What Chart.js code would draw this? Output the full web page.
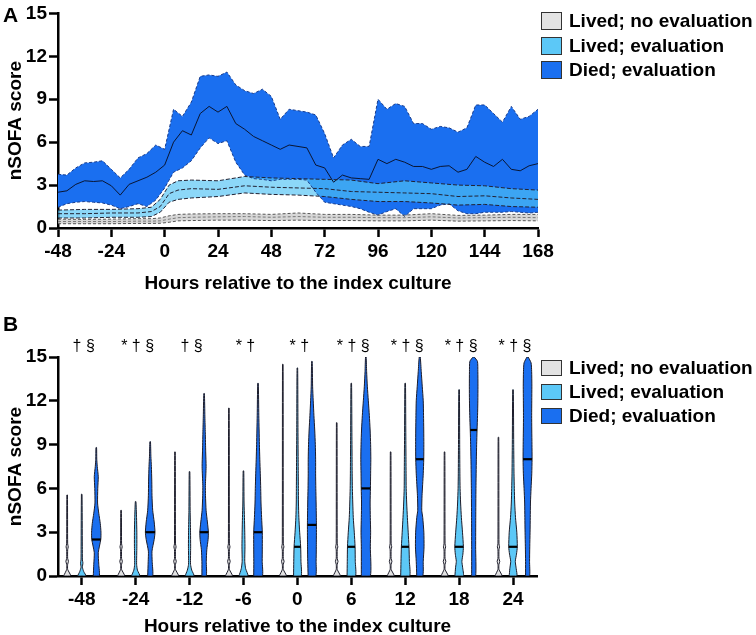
<!DOCTYPE html>
<html>
<head>
<meta charset="utf-8">
<script src="https://cdn.jsdelivr.net/npm/chart.js@4.4.0/dist/chart.umd.min.js"></script>
<style>
  body { margin: 0; background: #fff; font-family: "Liberation Sans", Arial, sans-serif; }
  #wrap { position: relative; width: 756px; height: 635px; overflow: hidden; }
  canvas { position: absolute; left: 0; }
  #chartA { top: 0; }
  #chartB { top: 300px; }
  .panel { position: absolute; left: 3px; font-weight: bold; font-size: 21px; line-height: 1; }
  .legend { position: absolute; left: 541px; font-weight: bold; font-size: 19px; color: #000; }
  .legend div { display: flex; align-items: center; white-space: nowrap; }
  .legend span { display: inline-block; width: 21px; box-sizing: border-box; border: 1.5px solid #333; margin-right: 7px; }
  #legA div { height: 24.5px; }
  #legA span { height: 18px; }
  #legB div { height: 24px; }
  #legB span { height: 16px; }
</style>
</head>
<body>
<div id="wrap">
  <canvas id="chartA" width="756" height="300"></canvas>
  <canvas id="chartB" width="756" height="335"></canvas>
  <div class="panel" style="top:4px">A</div>
  <div class="panel" style="top:313px">B</div>
  <div class="legend" id="legA" style="top:9px">
    <div><span style="background:#e3e3e3"></span>Lived; no evaluation</div>
    <div><span style="background:#5cc8f7"></span>Lived; evaluation</div>
    <div><span style="background:#1a6ff0"></span>Died; evaluation</div>
  </div>
  <div class="legend" id="legB" style="top:356px">
    <div><span style="background:#e3e3e3"></span>Lived; no evaluation</div>
    <div><span style="background:#5cc8f7"></span>Lived; evaluation</div>
    <div><span style="background:#1a6ff0"></span>Died; evaluation</div>
  </div>
</div>
<script>
// ---- Panel A: median and IQR of nSOFA over time ----
const diedHours = [-48, -44, -40, -36, -32, -28, -24, -20, -16, -12, -8, -4, 0, 4, 8, 12, 16, 20, 24, 28, 32, 36, 40, 44, 48,
  52, 56, 60, 64, 68, 72, 76, 80, 84, 88, 92, 96, 100, 104, 108, 112, 116, 120, 124, 128, 132, 136, 140, 144, 148, 152, 156, 160, 164, 168];
const diedUpper = [3.75, 3.7, 4.2, 4.55, 4.6, 4.7, 4.1, 3.5, 4.1, 4.9, 5.2, 5.8, 5.5, 8.3, 7.8, 8.8, 10.6, 10.7, 10.6, 10.9, 10.0, 9.6, 9.4, 9.7, 9.2,
  7.6, 8.3, 8.2, 8.1, 7.9, 6.6, 4.9, 5.8, 6.2, 5.7, 5.7, 9.0, 8.3, 8.7, 8.5, 7.3, 7.3, 6.9, 7.1, 7.0, 6.7, 7.0, 8.6, 8.6, 8.0, 7.4, 8.5, 7.6, 7.8, 8.3];
const diedMedian = [2.5, 2.6, 3.05, 3.3, 3.25, 3.3, 2.95, 2.3, 3.05, 3.3, 3.55, 3.9, 4.4, 6.0, 6.8, 6.5, 8.0, 8.5, 8.1, 8.5, 7.3, 6.9, 6.4, 6.1, 5.8,
  5.5, 5.8, 5.7, 5.6, 4.4, 4.2, 3.2, 3.7, 3.5, 3.45, 3.4, 4.8, 4.5, 4.8, 4.6, 4.3, 4.3, 4.1, 4.3, 4.35, 3.9, 4.1, 5.0, 4.6, 4.3, 4.8, 4.1, 4.0, 4.35, 4.5];
const diedLower = [1.45, 1.7, 1.8, 1.85, 1.8, 1.75, 1.6, 1.35, 1.5, 1.7, 1.5, 1.95, 2.8, 3.9, 4.2, 4.7, 5.6, 6.3, 5.9, 6.1, 4.6, 3.7, 3.45, 3.4, 3.3,
  3.4, 3.4, 3.4, 3.35, 2.5, 1.8, 1.7, 1.6, 1.5, 1.35, 1.1, 0.9, 1.15, 1.35, 0.8, 1.35, 1.35, 1.35, 1.6, 1.7, 1.2, 1.0, 1.0, 1.1, 1.1, 1.1, 1.15, 1.1, 1.05, 1.1];

const livedHours = [-48, -36, -24, -12, -6, -2, 2, 6, 12, 24, 36, 48, 60, 72, 84, 96, 108, 120, 132, 144, 156, 168];
const evalUpper = [1.25, 1.3, 1.3, 1.35, 1.45, 2.0, 3.0, 3.3, 3.35, 3.3, 3.6, 3.5, 3.45, 3.4, 3.35, 3.1, 3.3, 3.15, 3.0, 2.95, 2.75, 2.65];
const evalMedian = [1.0, 1.0, 1.05, 1.05, 1.15, 1.5, 2.4, 2.65, 2.75, 2.7, 2.95, 2.85, 2.8, 2.75, 2.55, 2.5, 2.45, 2.4, 2.2, 2.25, 2.1, 2.0];
const evalLower = [0.7, 0.7, 0.75, 0.75, 0.8, 1.1, 1.8, 2.0, 2.1, 2.2, 2.45, 2.35, 2.3, 2.2, 2.0, 1.85, 1.85, 1.75, 1.6, 1.65, 1.5, 1.45];
const noEvalUpper = [0.62, 0.6, 0.62, 0.65, 0.65, 0.7, 0.85, 0.95, 0.98, 1.0, 1.0, 0.95, 1.05, 0.95, 0.95, 0.9, 0.9, 1.0, 0.88, 0.9, 0.95, 0.95];
const noEvalMedian = [0.45, 0.45, 0.45, 0.48, 0.48, 0.5, 0.62, 0.72, 0.75, 0.78, 0.8, 0.75, 0.8, 0.75, 0.75, 0.72, 0.72, 0.78, 0.7, 0.72, 0.75, 0.72];
const noEvalLower = [0.3, 0.3, 0.3, 0.32, 0.32, 0.33, 0.4, 0.5, 0.52, 0.55, 0.55, 0.52, 0.55, 0.52, 0.52, 0.5, 0.5, 0.55, 0.48, 0.5, 0.52, 0.5];

// ---- Panel B: violin profiles, [score, relative half-width] ----
const timepoints = ['-48', '-24', '-12', '-6', '0', '6', '12', '18', '24'];
const sigMarks = ['\u2020 \u00a7', '* \u2020 \u00a7', '\u2020 \u00a7', '* \u2020', '* \u2020', '* \u2020 \u00a7', '* \u2020 \u00a7', '* \u2020 \u00a7', '* \u2020 \u00a7'];

const noEvalBase = [[0, 3.6], [0.45, 0.5], [0.8, 0.5], [1, 1.3], [1.2, 0.5], [1.8, 0.5], [2, 1.1], [2.2, 0.5]];
const noEvalMax = [5.55, 4.5, 8.5, 11.5, 14.5, 10.5, 8.5, 8.5, 9.5];

const evalProfiles = [
  [[0, 4.2], [0.3, 2.0], [0.6, 0.7], [0.9, 1.2], [1.1, 0.7], [2, 0.6], [5.6, 0.3]],
  [[0, 4.2], [0.4, 1.8], [0.8, 1.0], [2, 1.2], [3, 1.2], [4, 0.9], [5.1, 0.3]],
  [[0, 4.5], [0.4, 2.2], [0.8, 1.0], [2, 1.1], [3, 1.0], [4.5, 0.6], [7.15, 0.3]],
  [[0, 4.5], [0.5, 2.2], [1, 1.3], [2, 1.5], [3, 1.3], [4, 1.0], [5, 0.6], [7.2, 0.3]],
  [[0, 3.8], [1, 3.6], [2, 3.3], [3, 2.3], [4, 1.5], [5, 1.1], [6, 1.0], [7, 0.9], [8, 0.8], [10, 0.6], [14.25, 0.3]],
  [[0, 4.2], [1, 4.0], [2, 3.8], [3, 3.0], [4, 2.0], [5, 1.5], [6, 1.1], [7, 0.9], [8, 0.8], [10, 0.6], [13.2, 0.3]],
  [[0, 4.5], [1, 4.2], [2, 3.8], [3, 3.0], [4, 2.2], [5, 1.5], [6, 1.0], [7, 0.9], [8, 0.8], [10, 0.6], [13.2, 0.3]],
  [[0, 4.2], [0.6, 3.5], [1, 2.8], [1.5, 3.8], [2, 4.3], [3, 3.4], [4, 2.3], [5, 1.5], [6, 1.0], [7, 0.8], [9, 0.6], [12.76, 0.3]],
  [[0, 3.8], [0.5, 3.2], [1, 2.3], [1.5, 3.5], [2, 4.3], [3, 3.8], [4, 2.5], [5, 1.7], [6, 1.3], [7, 1.0], [9, 0.7], [12.76, 0.3]]
];
const evalMedians = [null, null, null, null, 2, 2, 2, 2, 2];

const diedProfiles = [
  [[0, 3], [0.8, 2.5], [1.6, 2], [2.5, 4.5], [3, 4.7], [3.6, 4], [4.3, 2.5], [5, 1.3], [6, 1.5], [6.8, 2], [7.5, 1], [8, 0.5], [8.8, 0.3]],
  [[0, 2.5], [1, 2], [1.7, 1.8], [2.5, 4], [3, 4.8], [3.7, 4], [4.5, 2.5], [5.5, 1.8], [6.5, 1.6], [7.5, 1.2], [8.2, 0.7], [9.2, 0.3]],
  [[0, 2.2], [1, 2.2], [1.8, 2.7], [2.5, 4.0], [3, 4.3], [3.7, 3.3], [4.5, 2.0], [5.5, 1.4], [6.2, 1.3], [7.5, 2.0], [8.5, 1.6], [9.8, 1.2], [10.9, 0.8], [12.5, 0.3]],
  [[0, 4.3], [1, 4.2], [2, 4.3], [3, 4.3], [4, 3.6], [5, 3.0], [6, 2.7], [7, 2.3], [8, 1.8], [9, 1.4], [10, 1.1], [11, 0.8], [13.2, 0.3]],
  [[0, 3.8], [1, 4.2], [2, 4.4], [3.5, 4.5], [5, 4.2], [6, 3.9], [7, 3.7], [8, 3.7], [9, 3.4], [10, 2.8], [11, 2.0], [12, 1.3], [13, 0.7], [14.7, 0.3]],
  [[0, 4.5], [2, 4.5], [3, 4.8], [4, 4.5], [5, 4.3], [6, 4.6], [7, 4.8], [8, 5], [9, 4.8], [10, 4.3], [11, 3.5], [12, 2.5], [13, 1.5], [14, 0.8], [15, 0.3]],
  [[0, 3], [1, 3.5], [2, 4.3], [3, 4.1], [4, 3.0], [4.5, 2.0], [5.5, 2.3], [7, 3.5], [8, 4.0], [9, 4.1], [10, 4.0], [11, 3.8], [12, 3.5], [13, 2.5], [14, 1.5], [15, 0.5]],
  [[0, 2], [2, 2], [4, 2.1], [6, 2.3], [8, 2.7], [9, 3], [10, 3.4], [11, 3.9], [12, 4.2], [13, 4.3], [14, 4.2], [14.7, 3.8], [15, 0.5]],
  [[0, 2], [1, 2], [2, 2.2], [3, 2.5], [4, 2.7], [5, 2.9], [6, 3.5], [7, 4.2], [8, 4.5], [9, 4.4], [10, 4.2], [11, 4.1], [12, 4.2], [13, 4.3], [14, 4.1], [14.6, 3.5], [15, 0.5]]
];
const diedMedians = [2.5, 3, 3, 3, 3.5, 6, 8, 10, 8];

// ---- colours / styling ----
const DARK = '#1a6ff0';
const LIGHT = '#5cc8f7';
const GREY = '#e3e3e3';
const FONT = '"Liberation Sans", Arial, sans-serif';

const pts = (xs, ys) => xs.map((x, i) => ({ x, y: ys[i] }));

function axisBase() {
  return {
    border: { display: true, color: '#000', width: 2.5 },
    grid: { display: true, drawOnChartArea: false, drawTicks: true, tickLength: 9, tickWidth: 2.5, tickColor: '#000' },
    ticks: { color: '#000', font: { family: FONT, weight: 'bold', size: 19 }, padding: 3 },
    title: { display: true, color: '#000', font: { family: FONT, weight: 'bold', size: 19 } }
  };
}

// ---- Chart A ----
const bandLine = (data, color, dash, fill, bg) => ({
  data, borderColor: color, borderWidth: 1, borderDash: dash, pointRadius: 0,
  fill: fill, backgroundColor: bg, tension: 0
});

const xA = axisBase();
Object.assign(xA, { type: 'linear', min: -48, max: 168, afterFit: s => { s.height = 72; } });
xA.ticks.stepSize = 24;
xA.title.text = 'Hours relative to the index culture';
xA.title.padding = { top: 0, bottom: 5 };
const yA = axisBase();
Object.assign(yA, { min: 0, max: 15, afterFit: s => { s.width = 58; } });
yA.ticks.stepSize = 3;
yA.ticks.padding = 2;
yA.title.text = 'nSOFA score';
yA.title.padding = { top: 4, bottom: 0 };

new Chart(document.getElementById('chartA'), {
  type: 'line',
  data: {
    datasets: [
      bandLine(pts(livedHours, noEvalUpper), '#555', [3, 2], '+1', 'rgba(205,205,205,0.8)'),
      bandLine(pts(livedHours, noEvalLower), '#555', [3, 2], false),
      bandLine(pts(livedHours, noEvalMedian), '#777', [3, 2], false),
      bandLine(pts(livedHours, evalUpper), '#223', [4, 2], '+1', 'rgba(78,194,245,0.65)'),
      bandLine(pts(livedHours, evalLower), '#223', [4, 2], false),
      bandLine(pts(livedHours, evalMedian), '#223', [4, 2], false),
      bandLine(pts(diedHours, diedUpper), '#183c8c', [3, 2], '+1', DARK),
      bandLine(pts(diedHours, diedLower), '#183c8c', [3, 2], false),
      bandLine(pts(diedHours, diedMedian), '#0a1633', [], false)
    ]
  },
  options: {
    responsive: false,
    animation: false,
    layout: { padding: { top: 10, right: 218, left: 0, bottom: 0 } },
    plugins: { legend: { display: false }, tooltip: { enabled: false }, filler: { drawTime: 'beforeDatasetsDraw' } },
    scales: { x: xA, y: yA }
  }
});

// ---- Chart B (violins) ----
const WU = 1 / 53.9;              // category units per width unit
const OFFSETS = [-0.27, 0, 0.27]; // no evaluation, evaluation, died

function violinPoints(center, profile) {
  const left = profile.map(([v, w]) => ({ x: center - w * WU, y: v }));
  const right = profile.slice().reverse().map(([v, w]) => ({ x: center + w * WU, y: v }));
  return left.concat(right, [left[0]]);
}
function widthAt(profile, v) {
  for (let k = 1; k < profile.length; k++) {
    const [v0, w0] = profile[k - 1], [v1, w1] = profile[k];
    if (v <= v1) return w0 + (w1 - w0) * (v - v0) / (v1 - v0);
  }
  return 0;
}

const violinSets = [];
const medianSets = [];
timepoints.forEach((t, i) => {
  const groups = [
    { prof: noEvalBase.concat([[noEvalMax[i], 0.3]]), color: GREY, med: null },
    { prof: evalProfiles[i], color: LIGHT, med: evalMedians[i] },
    { prof: diedProfiles[i], color: DARK, med: diedMedians[i] }
  ];
  groups.forEach((g, j) => {
    const c = i + OFFSETS[j];
    violinSets.push({
      data: violinPoints(c, g.prof), fill: 'shape', backgroundColor: g.color,
      borderColor: '#1c1c2a', borderWidth: 1, pointRadius: 0, tension: 0.2
    });
    if (g.med !== null) {
      const w = widthAt(g.prof, g.med) * WU;
      medianSets.push({
        data: [{ x: c - w, y: g.med }, { x: c + w, y: g.med }],
        borderColor: '#000', borderWidth: 2.2, pointRadius: 0, fill: false
      });
    }
  });
});

const sigPlugin = {
  id: 'sigMarks',
  afterDraw(chart) {
    const { ctx, scales: { x } } = chart;
    ctx.save();
    ctx.font = '16px ' + FONT;
    ctx.fillStyle = '#000';
    ctx.textAlign = 'center';
    ctx.textBaseline = 'middle';
    sigMarks.forEach((s, i) => ctx.fillText(s, x.getPixelForValue(i) + 2, 47));
    ctx.restore();
  }
};

const xB = axisBase();
Object.assign(xB, {
  type: 'linear', min: -0.44, max: 8.445,
  afterFit: s => { s.height = 59; },
  afterBuildTicks: s => { s.ticks = timepoints.map((t, i) => ({ value: i })); }
});
xB.ticks.callback = v => timepoints[v];
xB.ticks.autoSkip = false;
xB.ticks.padding = 3;
xB.title.text = 'Hours relative to the index culture';
xB.title.padding = { top: 0, bottom: -3 };
const yB = axisBase();
Object.assign(yB, { min: 0, max: 15, afterFit: s => { s.width = 58; } });
yB.ticks.stepSize = 3;
yB.ticks.padding = 2;
yB.title.text = 'nSOFA score';
yB.title.padding = { top: 4, bottom: 0 };

new Chart(document.getElementById('chartB'), {
  type: 'line',
  data: { datasets: medianSets.concat(violinSets) },
  options: {
    responsive: false,
    animation: false,
    layout: { padding: { top: 57, right: 219, left: 0, bottom: 0 } },
    plugins: { legend: { display: false }, tooltip: { enabled: false }, filler: { drawTime: 'beforeDatasetsDraw' } },
    scales: { x: xB, y: yB }
  },
  plugins: [sigPlugin]
});
</script>
</body>
</html>
